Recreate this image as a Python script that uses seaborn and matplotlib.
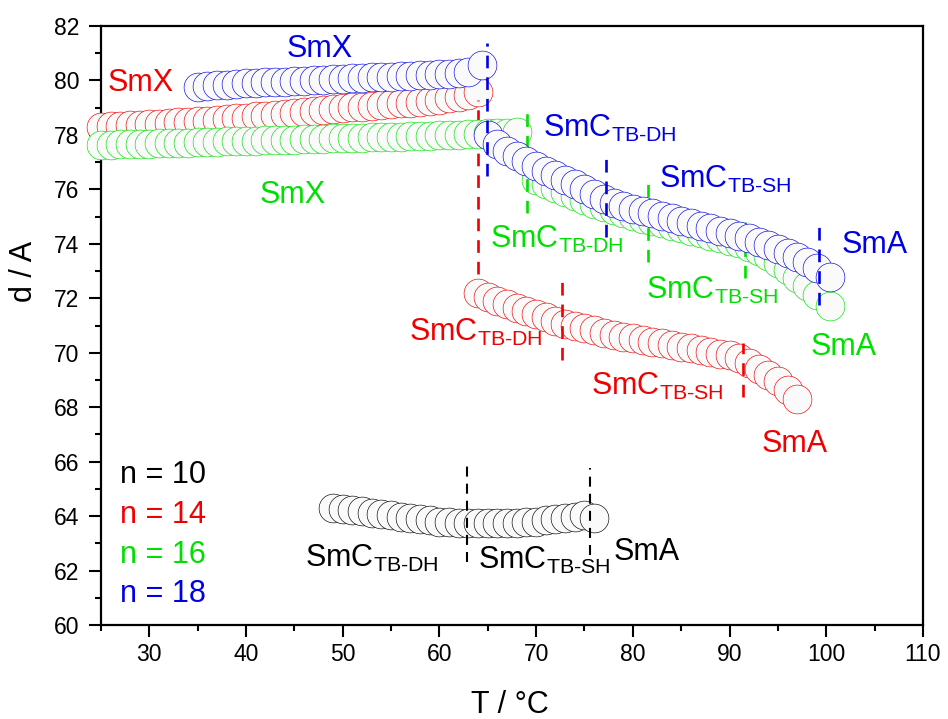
import matplotlib
matplotlib.use("Agg")
import matplotlib.pyplot as plt
import seaborn as sns
import pandas as pd
from matplotlib.ticker import MultipleLocator

# ---------------- data ----------------
T10 = [49, 50, 51, 52, 53, 54, 55, 56, 57, 58, 59, 60, 61, 62, 63, 64, 65, 66, 67, 68,
       69, 70, 71, 72, 73, 74, 75, 76]
d10 = [64.29, 64.27, 64.24, 64.19, 64.13, 64.08, 64.03, 63.98, 63.93, 63.88, 63.84, 63.80,
       63.77, 63.75, 63.74, 63.73, 63.73, 63.73, 63.74, 63.75, 63.77, 63.80, 63.84, 63.88,
       63.93, 63.98, 64.03, 63.92]

T14 = [25, 26, 27, 28, 29, 30, 31, 32, 33, 34, 35, 36, 37, 38, 39, 40, 41, 42, 43, 44,
       45, 46, 47, 48, 49, 50, 51, 52, 53, 54, 55, 56, 57, 58, 59, 60, 61, 62, 63, 64,
       64, 65, 66, 67, 68, 69, 70, 71, 72, 73, 74, 75, 76, 77, 78, 79, 80, 81, 82, 83,
       84, 85, 86, 87, 88, 89, 90, 91, 92, 93, 94, 95, 96, 97]
d14 = [78.30, 78.32, 78.34, 78.36, 78.38, 78.40, 78.42, 78.44, 78.46, 78.48, 78.50, 78.52,
       78.54, 78.57, 78.61, 78.64, 78.68, 78.71, 78.75, 78.78, 78.82, 78.85, 78.89, 78.92,
       78.95, 78.98, 79.01, 79.04, 79.07, 79.10, 79.13, 79.16, 79.19, 79.22, 79.26, 79.30,
       79.35, 79.40, 79.46, 79.59,
       72.18, 72.03, 71.90, 71.78, 71.66, 71.54, 71.43, 71.31, 71.18, 71.06, 70.98, 70.90,
       70.82, 70.74, 70.66, 70.59, 70.53, 70.47, 70.41, 70.35, 70.29, 70.22, 70.16, 70.10,
       70.04, 69.97, 69.90, 69.80, 69.62, 69.42, 69.20, 68.95, 68.65, 68.30]

T16 = [25, 26, 27, 28, 29, 30, 31, 32, 33, 34, 35, 36, 37, 38, 39, 40, 41, 42, 43, 44,
       45, 46, 47, 48, 49, 50, 51, 52, 53, 54, 55, 56, 57, 58, 59, 60, 61, 62, 63, 64,
       65, 66, 67, 68,
       70, 71, 72, 73, 74, 75, 76, 77, 78, 79, 80, 81, 82, 83, 84, 85, 86, 87, 88, 89,
       90, 91, 92, 93, 94, 95, 96, 97, 98, 99, 100.4]
d16 = [77.63, 77.64, 77.65, 77.66, 77.67, 77.68, 77.69, 77.70, 77.71, 77.72, 77.73, 77.74,
       77.75, 77.76, 77.77, 77.78, 77.79, 77.80, 77.81, 77.82, 77.83, 77.84, 77.85, 77.86,
       77.87, 77.88, 77.89, 77.90, 77.91, 77.92, 77.93, 77.94, 77.95, 77.96, 77.97, 77.98,
       77.99, 78.00, 78.02, 78.04, 78.06, 78.07, 78.08, 78.10,
       76.35, 76.20, 76.05, 75.90, 75.75, 75.60, 75.47, 75.35, 75.24, 75.13, 75.03, 74.93,
       74.84, 74.75, 74.66, 74.57, 74.48, 74.39, 74.30, 74.21, 74.12, 74.02, 73.90, 73.75,
       73.55, 73.30, 73.03, 72.75, 72.45, 72.12, 71.72]

T18 = [35, 36, 37, 38, 39, 40, 41, 42, 43, 44, 45, 46, 47, 48, 49, 50, 51, 52, 53, 54,
       55, 56, 57, 58, 59, 60, 61, 62, 63, 64.4,
       65, 66, 67, 68, 69, 70, 71, 72, 73, 74, 75, 76, 77, 78, 79, 80, 81, 82, 83, 84,
       85, 86, 87, 88, 89, 90, 91, 92, 93, 94, 95, 96, 97, 98, 99, 100.4]
d18 = [79.77, 79.80, 79.83, 79.85, 79.87, 79.89, 79.91, 79.93, 79.94, 79.95, 79.97, 79.99,
       80.01, 80.02, 80.04, 80.06, 80.08, 80.10, 80.12, 80.13, 80.14, 80.16, 80.17, 80.19,
       80.21, 80.23, 80.25, 80.28, 80.32, 80.57,
       78.00, 77.68, 77.40, 77.22, 77.05, 76.85, 76.67, 76.52, 76.36, 76.20, 76.02, 75.82,
       75.65, 75.50, 75.38, 75.28, 75.20, 75.12, 75.03, 74.94, 74.85, 74.76, 74.67, 74.58,
       74.49, 74.40, 74.30, 74.20, 74.08, 73.95, 73.80, 73.65, 73.50, 73.33, 73.10, 72.80]

series_names = ["n = 10", "n = 14", "n = 16", "n = 18"]
series_T = [T10, T14, T16, T18]
series_d = [d10, d14, d16, d18]

# phase transition temperatures (dashed lines) and their vertical extents
trans_T = [[62.8, 75.6], [64.0, 72.7, 91.4], [69.1, 81.6, 91.6], [64.9, 77.2, 99.3]]
trans_lo = [[62.3, 62.57], [72.9, 69.73, 68.37], [75.13, 73.33, 72.75], [76.5, 74.25, 71.75]]
trans_hi = [[65.9, 65.77], [79.28, 72.86, 70.36], [78.99, 76.4, 74.88], [81.36, 77.3, 74.8]]

# phase labels
DH = r"SmC$_\mathrm{TB\text{-}DH}$"
SH = r"SmC$_\mathrm{TB\text{-}SH}$"
lab_text = [[DH, SH, "SmA"],
            ["SmX", DH, SH, "SmA"],
            ["SmX", DH, SH, "SmA"],
            ["SmX", DH, SH, "SmA"]]
lab_x = [[46.1, 64.0, 78.05],
         [25.65, 56.9, 75.7, 93.3],
         [41.4, 65.2, 81.36, 98.4],
         [44.2, 70.7, 82.7, 101.6]]
lab_y = [[62.12, 62.05, 62.39],
         [79.61, 70.43, 68.45, 66.37],
         [75.51, 73.84, 71.96, 69.92],
         [80.87, 77.93, 76.04, 73.65]]

legend_x = 26.96
legend_y = [65.21, 63.76, 62.29, 60.86]

colors = ["#000000", "#f00000", "#00e000", "#0000e6"]

# ---------------- style ----------------
sns.set_theme(style="ticks")
plt.rcParams["font.family"] = ["Liberation Sans", "DejaVu Sans"]
plt.rcParams["mathtext.fontset"] = "custom"
plt.rcParams["mathtext.rm"] = "Liberation Sans"
plt.rcParams["mathtext.it"] = "Liberation Sans:italic"
plt.rcParams["mathtext.bf"] = "Liberation Sans:bold"

fig = plt.figure(figsize=(9.48, 7.19), dpi=100)
ax = fig.add_axes([0.1065, 0.1307, 0.8671, 0.8331])

z = 2
for name, T, d, col, tt, lo, hi, texts, lx, ly in zip(
        series_names, series_T, series_d, colors, trans_T, trans_lo, trans_hi,
        lab_text, lab_x, lab_y):
    df = pd.DataFrame({"T": T, "d": d})
    sns.scatterplot(data=df, x="T", y="d", ax=ax, s=430, marker="o",
                    facecolor="#fafafa", edgecolor=col, linewidth=0.45,
                    legend=False, zorder=z, clip_on=False)
    lw = 1.5 if col == "#000000" else 1.9
    ax.vlines(tt, lo, hi, colors=col, linestyles=(0, (4.8, 3.4)), linewidth=lw,
              zorder=z + 0.5)
    for t, x, y in zip(texts, lx, ly):
        ax.text(x, y, t, color=col, fontsize=22, ha="left", va="baseline", zorder=10)
    z += 1

for name, y, col in zip(series_names, legend_y, colors):
    ax.text(legend_x, y, name, color=col, fontsize=22, ha="left", va="baseline", zorder=10)

ax.set_xlim(25, 110)
ax.set_ylim(60, 82)
ax.xaxis.set_major_locator(MultipleLocator(10))
ax.xaxis.set_minor_locator(MultipleLocator(5))
ax.yaxis.set_major_locator(MultipleLocator(2))
ax.yaxis.set_minor_locator(MultipleLocator(1))
ax.tick_params(which="major", direction="out", length=8.5, width=1.5,
               labelsize=16.5, color="black", labelcolor="black")
ax.tick_params(axis="x", which="major", pad=4.5)
ax.tick_params(axis="y", which="major", pad=7)
ax.tick_params(which="minor", direction="out", length=4.5, width=1.5, color="black")
ax.tick_params(top=False, right=False, which="both")
for sp in ax.spines.values():
    sp.set_visible(True)
    sp.set_linewidth(1.6)
    sp.set_color("black")
    sp.set_zorder(1)
ax.set_facecolor("white")
ax.grid(False)

ax.set_xlabel("T / °C", fontsize=22, color="black")
ax.set_ylabel("d / A", fontsize=22, color="black")
ax.xaxis.label.set_va("center")
ax.yaxis.label.set_va("center")
ax.xaxis.set_label_coords(0.4976, -0.134)
ax.yaxis.set_label_coords(-0.094, 0.591)

fig.savefig("out.png", dpi=100, facecolor="white")
